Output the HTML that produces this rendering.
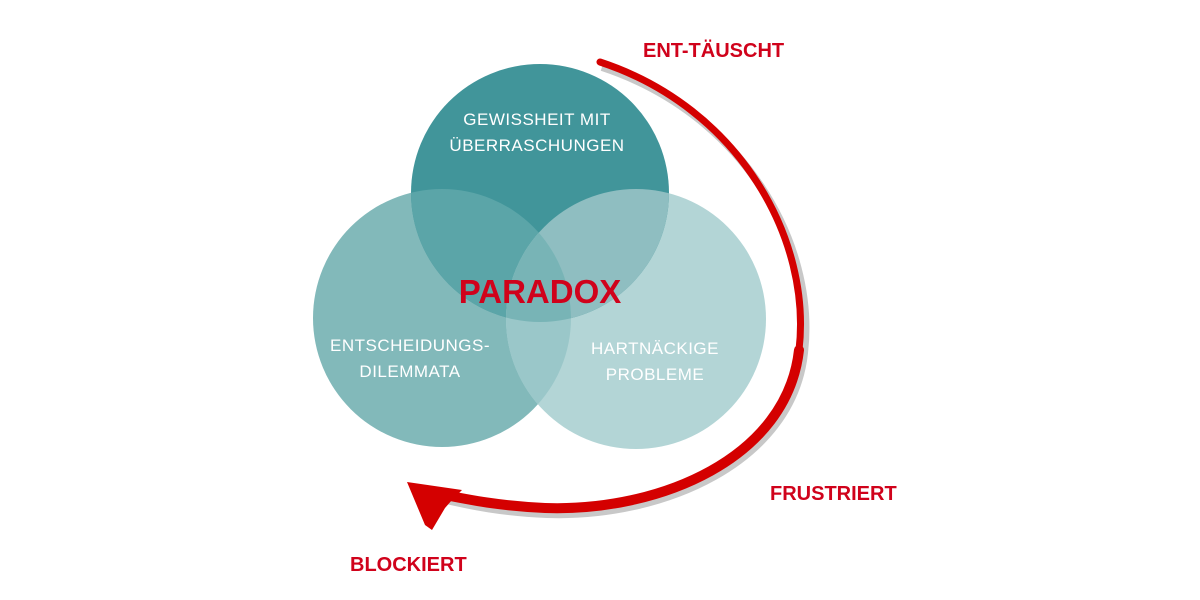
<!DOCTYPE html>
<html><head><meta charset="utf-8"><style>
html,body{margin:0;padding:0;background:#fff;}
svg{display:block}
text{font-family:"Liberation Sans",sans-serif;}
</style></head><body>
<svg width="1200" height="600" viewBox="0 0 1200 600">
<defs>
<clipPath id="cT"><circle cx="540" cy="193" r="129"/></clipPath>
<clipPath id="cL"><circle cx="442" cy="318" r="129"/></clipPath>
<clipPath id="cR"><circle cx="636" cy="319" r="130"/></clipPath>
</defs>
<circle cx="442" cy="318" r="129" fill="#82b9ba"/>
<circle cx="636" cy="319" r="130" fill="#b3d5d6"/>
<circle cx="540" cy="193" r="129" fill="#41959a"/>
<g clip-path="url(#cT)"><circle cx="442" cy="318" r="129" fill="#5ba5a8"/><circle cx="636" cy="319" r="130" fill="#8fbec1"/></g>
<g clip-path="url(#cL)"><circle cx="636" cy="319" r="130" fill="#9ac7c9"/></g>
<g clip-path="url(#cL)"><g clip-path="url(#cR)"><circle cx="540" cy="193" r="129" fill="#78b4b6"/></g></g>

<path d="M600,64 C740,110 815,240 802,350 C790,460 660,515 545,511 C500,509 470,503 440,496" fill="none" stroke="#c8c8c8" stroke-width="8" transform="translate(2,3)"/>
<path d="M600,62 C740,108 812,240 799,350" fill="none" stroke="#d40000" stroke-width="7" stroke-linecap="round"/>
<path d="M799,350 C787,458 660,512 545,508 C500,506 470,500 440,494" fill="none" stroke="#d40000" stroke-width="10" stroke-linecap="round"/>
<polygon points="407,482 462,490 452,500 445,508 432,530 425,525" fill="#d40000"/>

<g fill="#fff" font-size="17" text-anchor="middle" letter-spacing="0.5">
<text x="537" y="125">GEWISSHEIT MIT</text>
<text x="537" y="151">ÜBERRASCHUNGEN</text>
<text x="410" y="351">ENTSCHEIDUNGS-</text>
<text x="410" y="377">DILEMMATA</text>
<text x="655" y="354">HARTNÄCKIGE</text>
<text x="655" y="380">PROBLEME</text>
</g>
<text x="540" y="303" font-size="33" font-weight="bold" fill="#d0021b" text-anchor="middle">PARADOX</text>
<g fill="#d0021b" font-size="20" font-weight="bold">
<text x="643" y="57">ENT-TÄUSCHT</text>
<text x="770" y="500">FRUSTRIERT</text>
<text x="350" y="571">BLOCKIERT</text>
</g>
</svg>
</body></html>
